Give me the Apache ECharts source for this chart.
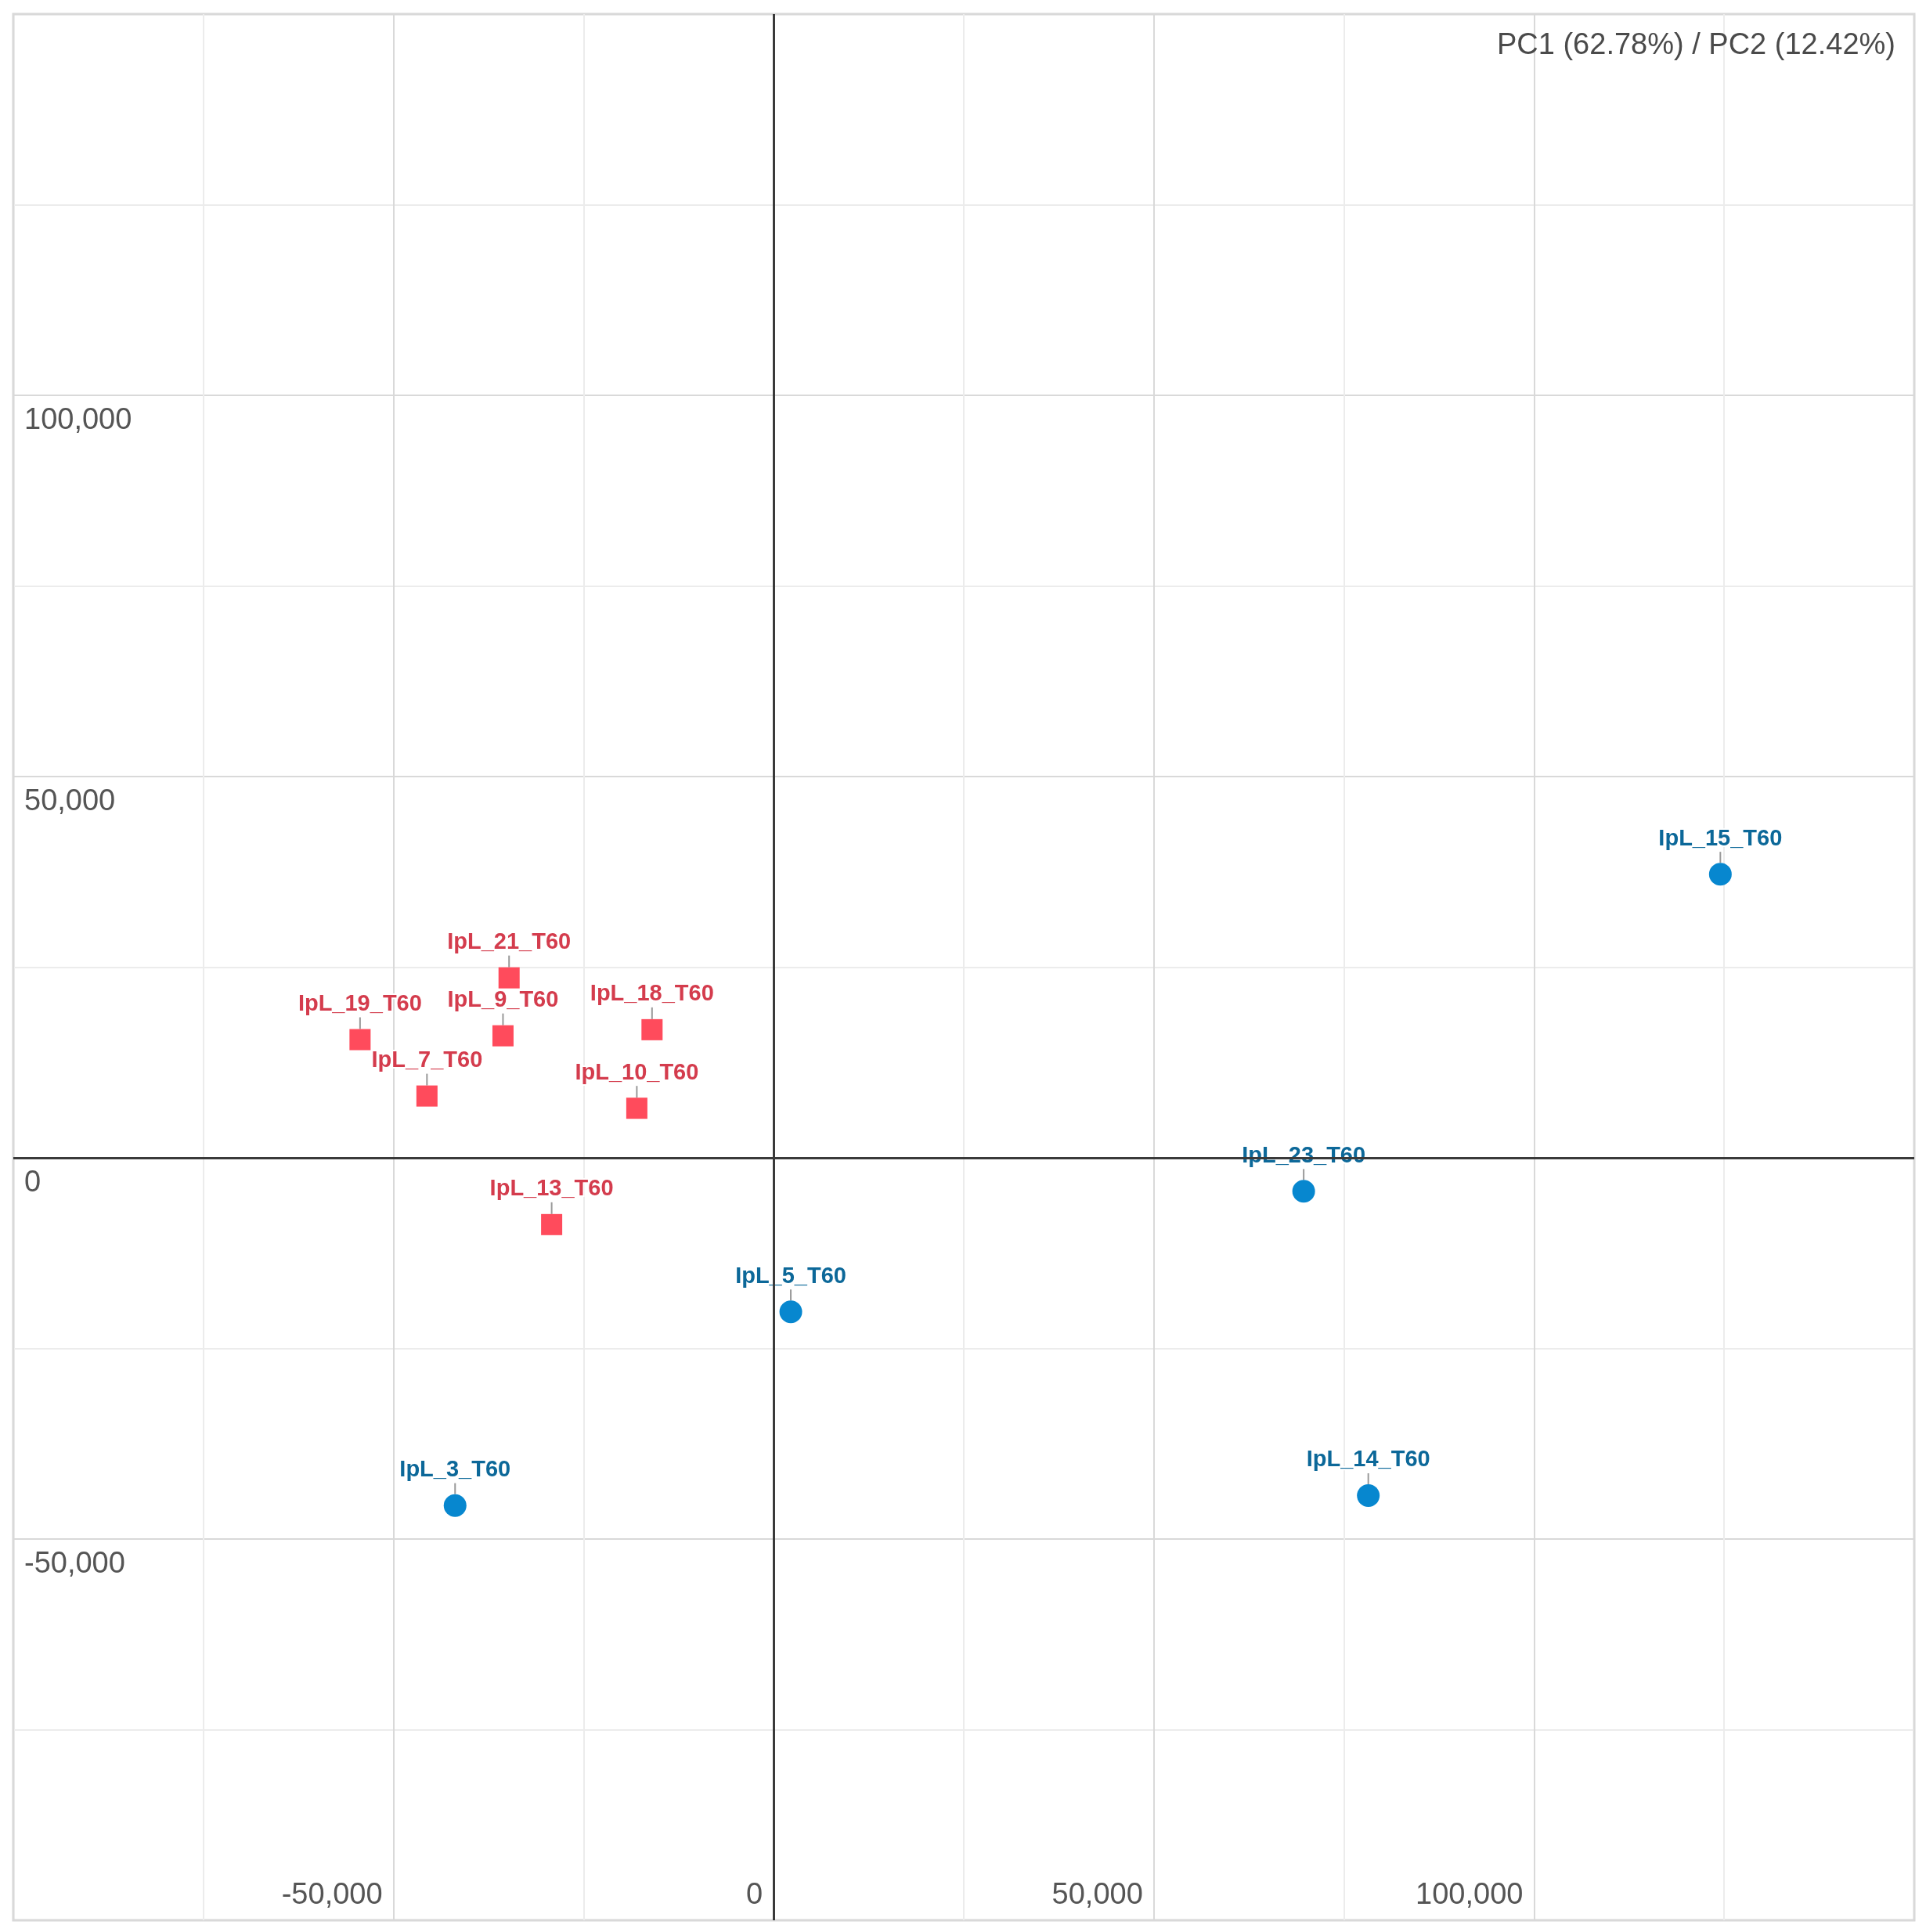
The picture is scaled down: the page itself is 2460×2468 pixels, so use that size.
<!DOCTYPE html>
<html>
<head>
<meta charset="utf-8">
<script src="https://cdn.jsdelivr.net/npm/echarts@6/dist/echarts.min.js"></script>
<style>
  html, body { margin: 0; padding: 0; background: #fff; }
  #chart { width: 2460px; height: 2468px; }
</style>
</head>
<body>
<div id="chart"></div>
<script>
// group 1 (red squares)
var redNames = ['IpL_21_T60', 'IpL_19_T60', 'IpL_9_T60', 'IpL_18_T60', 'IpL_7_T60', 'IpL_10_T60', 'IpL_13_T60'];
var redX = [-34800, -54400, -35600, -16000, -45600, -18000, -29200];
var redY = [23600, 15500, 16000, 16800, 8100, 6500, -8760];

// group 2 (blue circles)
var blueNames = ['IpL_15_T60', 'IpL_23_T60', 'IpL_5_T60', 'IpL_3_T60', 'IpL_14_T60'];
var blueX = [124500, 69700, 2250, -41900, 78200];
var blueY = [37200, -4400, -20200, -45600, -44300];

var axisMin = -100000;
var axisMax = 150000;
var axisStep = 25000;
var labelStep = 50000; // only every other grid line gets a label
var titleText = 'PC1 (62.78%) / PC2 (12.42%)';

var FONT = '"Liberation Sans", Arial, sans-serif';

function toPoints(xs, ys, names) {
    var out = [];
    for (var i = 0; i < xs.length; i++) {
        out.push([xs[i], ys[i], names[i]]);
    }
    return out;
}

function fmt(v) {
    if (v % labelStep !== 0) return '';
    return echarts.format.addCommas(v);
}

function pointLabel(color) {
    return {
        show: true,
        position: 'inside',
        formatter: function (p) { return p.data[2]; },
        color: color,
        fontSize: 29,
        fontWeight: 'bold',
        fontFamily: FONT,
        textBorderColor: '#fff',
        textBorderWidth: 4
    };
}

var chart = echarts.init(document.getElementById('chart'));

var option = {
    backgroundColor: '#fff',
    animation: false,
    title: {
        text: titleText,
        right: 34,
        top: 35,
        textStyle: {
            color: '#4a4a4a',
            fontSize: 38,
            fontWeight: 'normal',
            fontFamily: FONT
        }
    },
    grid: {
        left: 17,
        right: 15,
        top: 18,
        bottom: 15,
        show: true,
        borderColor: '#d6d6d6',
        borderWidth: 3
    },
    xAxis: {
        type: 'value',
        min: axisMin,
        max: axisMax,
        interval: axisStep,
        axisLine: { show: false },
        axisTick: { show: false },
        axisLabel: {
            inside: true,
            showMinLabel: false,
            showMaxLabel: false,
            align: 'right',
            padding: [0, 14, 0, 0],
            margin: 12,
            color: '#555',
            fontSize: 38,
            fontFamily: FONT,
            formatter: fmt
        },
        splitLine: {
            lineStyle: { color: ['#d9d9d9', '#ececec'], width: 2 }
        }
    },
    yAxis: {
        type: 'value',
        min: axisMin,
        max: axisMax,
        interval: axisStep,
        axisLine: { show: false },
        axisTick: { show: false },
        axisLabel: {
            inside: true,
            showMinLabel: false,
            showMaxLabel: false,
            verticalAlign: 'top',
            padding: [14, 0, 0, 0],
            margin: 14,
            color: '#555',
            fontSize: 38,
            fontFamily: FONT,
            formatter: fmt
        },
        splitLine: {
            lineStyle: { color: ['#d9d9d9', '#ececec'], width: 2 }
        }
    },
    series: [
        {
            name: 'group1',
            type: 'scatter',
            symbol: 'rect',
            symbolSize: 27,
            z: 3,
            itemStyle: { color: '#ff4b5c', opacity: 1 },
            label: pointLabel('#d43c4d'),
            labelLayout: { dy: -45 },
            labelLine: { show: true, lineStyle: { color: '#999', width: 2 } },
            data: toPoints(redX, redY, redNames),
            markLine: {
                silent: true,
                symbol: 'none',
                label: { show: false },
                lineStyle: { color: '#3a3a3a', width: 3, type: 'solid' },
                data: [{ xAxis: 0 }, { yAxis: 0 }]
            }
        },
        {
            name: 'group2',
            type: 'scatter',
            symbol: 'circle',
            symbolSize: 29,
            z: 3,
            itemStyle: { color: '#0787cf', opacity: 1 },
            label: pointLabel('#0c6899'),
            labelLayout: { dy: -45 },
            labelLine: { show: true, lineStyle: { color: '#999', width: 2 } },
            data: toPoints(blueX, blueY, blueNames)
        }
    ]
};

chart.setOption(option);
</script>
</body>
</html>
